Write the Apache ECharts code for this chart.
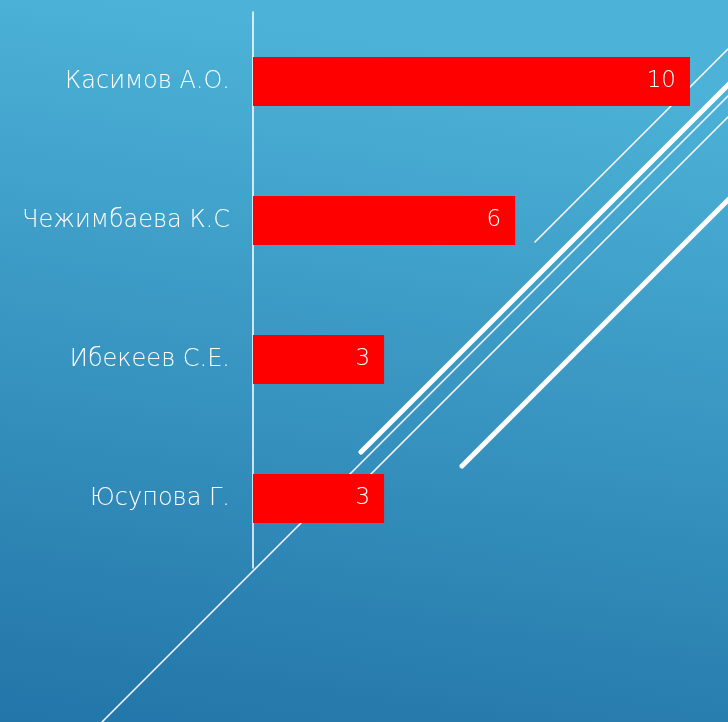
<!DOCTYPE html>
<html>
<head>
<meta charset="utf-8">
<script src="https://cdn.jsdelivr.net/npm/echarts@6/dist/echarts.min.js"></script>
<style>
  html, body { margin: 0; padding: 0; }
  #chart { width: 728px; height: 722px; }
</style>
</head>
<body>
<div id="chart"></div>
<script>
// данные
var names = ['Касимов А.О.', 'Чежимбаева К.С', 'Ибекеев С.Е.', 'Юсупова Г.'];
var values = [10, 6, 3, 3];

var chart = echarts.init(document.getElementById('chart'));

// декоративные линии слайда
function deco(x1, y1, x2, y2, w) {
  return {
    type: 'line',
    z: 1,
    shape: { x1: x1, y1: y1, x2: x2, y2: y2 },
    style: { stroke: '#ffffff', lineWidth: w, lineCap: 'round' }
  };
}

chart.setOption({
  backgroundColor: {
    type: 'linear', x: 0.15, y: 0, x2: 0, y2: 1,
    colorStops: [
      { offset: 0, color: '#4cb2d7' },
      { offset: 1, color: '#2275a8' }
    ]
  },
  textStyle: { fontFamily: 'DejaVu Sans' },
  graphic: [
    deco(535, 242, 740, 37, 1.5),
    deco(361, 452, 740, 73, 5),
    deco(102, 722, 740, 84, 1.5),
    deco(360, 485, 740, 105, 1.5),
    deco(462, 466, 740, 188, 5)
  ],
  grid: { left: 253, top: 12, bottom: 154, width: 437 },
  xAxis: {
    type: 'value',
    min: 0,
    max: 10,
    show: false
  },
  yAxis: {
    type: 'category',
    data: names,
    inverse: true,
    axisLine: { lineStyle: { color: '#ffffff', width: 1.5 } },
    axisTick: { show: false },
    axisLabel: { color: '#ffffff', fontSize: 24, fontWeight: 200, margin: 23 }
  },
  series: [
    {
      type: 'bar',
      z: 3,
      data: values,
      barWidth: 49,
      itemStyle: { color: '#ff0000' },
      label: {
        show: true,
        position: 'insideRight',
        distance: 14,
        color: '#ffffff',
        fontSize: 23,
        fontWeight: 200
      }
    }
  ]
});
</script>
</body>
</html>
